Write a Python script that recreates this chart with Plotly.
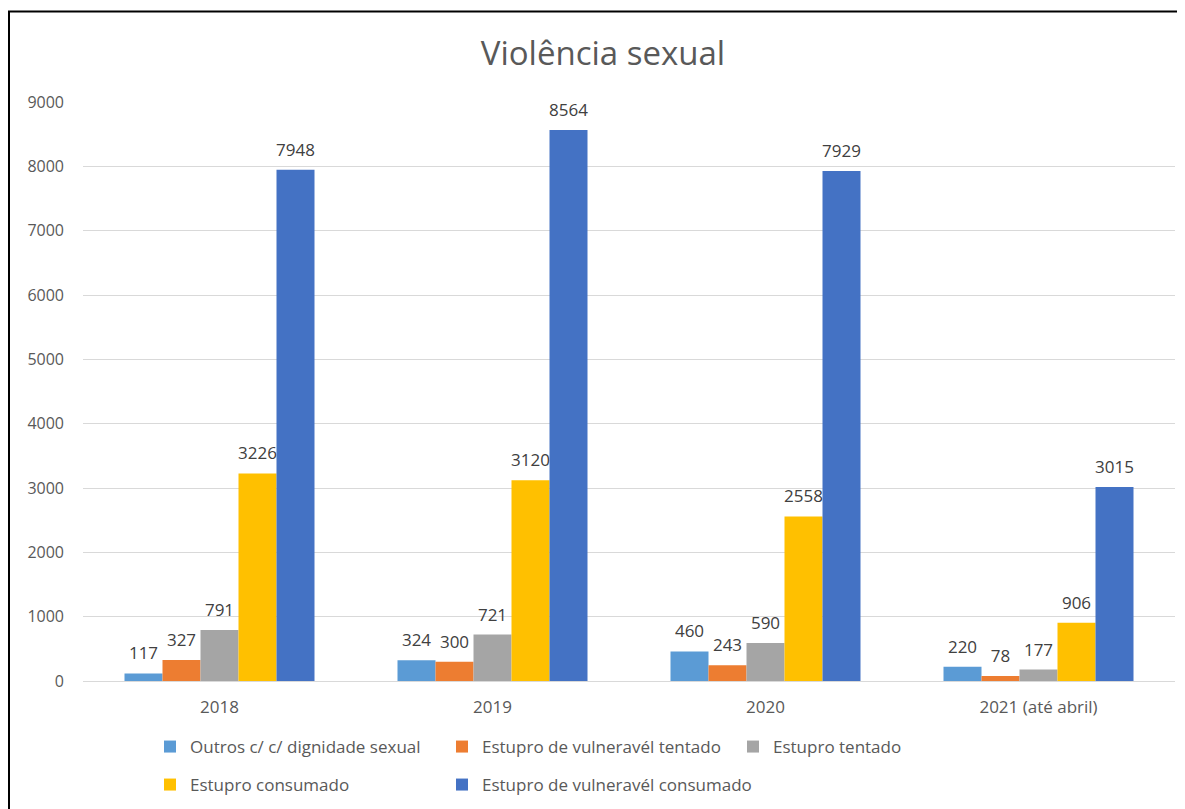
import plotly.graph_objects as go

categories = ["2018", "2019", "2020", "2021 (até abril)"]
series_names = [
    "Outros c/ c/ dignidade sexual",
    "Estupro de vulneravél tentado",
    "Estupro tentado",
    "Estupro consumado",
    "Estupro de vulneravél consumado",
]
outros = [117, 324, 460, 220]
vuln_tentado = [327, 300, 243, 78]
tentado = [791, 721, 590, 177]
consumado = [3226, 3120, 2558, 906]
vuln_consumado = [7948, 8564, 7929, 3015]
y_ticks = [0, 1000, 2000, 3000, 4000, 5000, 6000, 7000, 8000, 9000]

series_values = [outros, vuln_tentado, tentado, consumado, vuln_consumado]
colors = ["#5B9BD5", "#ED7D31", "#A5A5A5", "#FFC000", "#4472C4"]

W, H = 1185, 809
OFF = 8  # page body margin offset
FONT = "Open Sans"
GAP = 0.304

# legend placement (screen pixel positions of each entry's left edge / row centre)
legend_px = [(150, 747), (442, 747), (733, 747), (150, 785), (442, 785)]

fig = go.Figure()
for i, (name, vals) in enumerate(zip(series_names, series_values)):
    lg = "legend" if i == 0 else f"legend{i+1}"
    fig.add_trace(go.Bar(
        x=categories, y=vals, name=name,
        marker=dict(color=colors[i], line=dict(width=0)),
        offsetgroup=str(i), legend=lg,
    ))
# value labels, grouped the same way as the bars
for i, (name, vals) in enumerate(zip(series_names, series_values)):
    fig.add_trace(go.Scatter(
        x=categories, y=vals, mode="markers+text",
        text=[str(v) for v in vals], textposition="top center",
        textfont=dict(family=FONT, size=17, color="#404040"),
        marker=dict(size=14, color="rgba(0,0,0,0)"),
        offsetgroup=str(i), showlegend=False, hoverinfo="skip",
        cliponaxis=False,
    ))

layout_legends = {}
for i, (px, py) in enumerate(legend_px):
    key = "legend" if i == 0 else f"legend{i+1}"
    layout_legends[key] = dict(
        xref="container", yref="container",
        x=(px - OFF) / W, y=1 - (py - OFF) / H, xanchor="left", yanchor="middle",
        orientation="h", bgcolor="rgba(0,0,0,0)", borderwidth=0,
        font=dict(family=FONT, size=17, color="#595959"),
        itemclick=False, itemdoubleclick=False,
    )

# plot area in screen px: x 83..1175, y 102..681
L = 83 - OFF
R = W - (1175 - OFF)
T = 102 - OFF
B = H - (681 - OFF)
pw = W - L - R
ph = H - T - B

def px_to_paper_x(px):
    return (px - OFF - L) / pw

def py_to_paper_y(py):
    return (H - B - (py - OFF)) / ph

fig.update_layout(
    width=W, height=H,
    margin=dict(l=L, r=R, t=T, b=B),
    paper_bgcolor="white", plot_bgcolor="white",
    barmode="group", bargap=GAP, bargroupgap=0,
    scattermode="group", scattergap=GAP,
    title=dict(text="Violência sexual", x=(603 - OFF) / W, xanchor="center",
               y=1 - (53 - OFF) / H, yanchor="middle", xref="container", yref="container",
               font=dict(family=FONT, size=33, color="#595959")),
    xaxis=dict(showgrid=False, showline=False, ticks="",
               tickfont=dict(family=FONT, size=17, color="#595959"),
               ticklabelstandoff=14),
    yaxis=dict(range=[0, 9000], tickvals=y_ticks, showgrid=True,
               gridcolor="#D9D9D9", gridwidth=1, zeroline=True,
               zerolinecolor="#D9D9D9", zerolinewidth=1, showline=False,
               ticks="", tickfont=dict(family=FONT, size=16, color="#595959"),
               ticklabelstandoff=18),
    showlegend=True,
    shapes=[
        dict(type="line", xref="paper", yref="paper",
             x0=px_to_paper_x(9), x1=px_to_paper_x(9),
             y0=py_to_paper_y(11), y1=py_to_paper_y(830),
             line=dict(color="black", width=2)),
        dict(type="line", xref="paper", yref="paper",
             x0=px_to_paper_x(8), x1=px_to_paper_x(1200),
             y0=py_to_paper_y(11.5), y1=py_to_paper_y(11.5),
             line=dict(color="black", width=2)),
    ],
    **layout_legends,
)

fig.write_html("out.html")
